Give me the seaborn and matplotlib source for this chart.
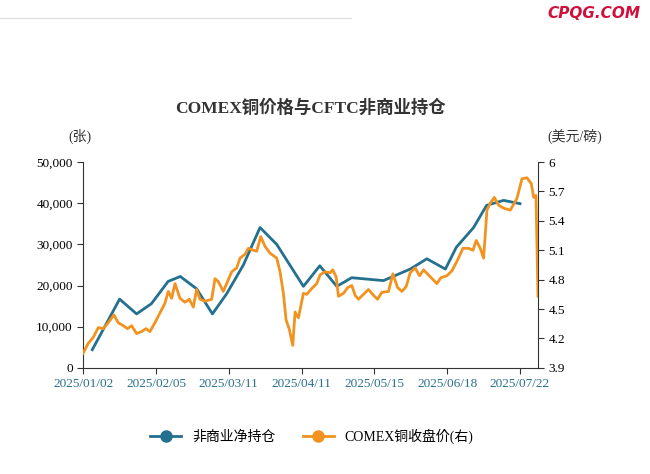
import matplotlib
matplotlib.use("Agg")
import matplotlib.pyplot as plt
from matplotlib import font_manager
import seaborn as sns
from matplotlib.lines import Line2D

names = {f.name for f in font_manager.fontManager.ttflist}
cjk = [n for n in ["Noto Sans CJK SC", "Noto Sans CJK JP", "Noto Sans CJK TC", "Noto Sans CJK KR", "Noto Serif CJK SC"] if n in names]
fonts = ["Liberation Serif"] + cjk
plt.rcParams["font.family"] = fonts

tick_labels = ["2025/01/02", "2025/02/05", "2025/03/11", "2025/04/11", "2025/05/15", "2025/06/18", "2025/07/22"]
tick_pos = [0, 24, 48, 72, 96, 120, 144]

pos_day = [3, 12, 17.6, 22.5, 28, 32, 37.4, 42.6, 47.3, 52.8, 58.3, 63.8, 72.6, 78, 83.6, 88.5, 99, 107.8, 113.3, 119.4, 123, 128.7, 133, 138.6, 144]
pos_val = [4400, 16700, 13100, 15600, 21000, 22200, 19200, 13100, 18000, 25000, 34100, 30000, 19800, 24800, 19800, 21900, 21200, 24000, 26500, 24000, 29300, 34100, 39500, 40700, 39900]

px_zoom = [100,115,130,145,160,175,192,205,220,233,245,260,275,288,300,315,330,345,355,365,375,390,405,418,430,440,450,465,485,495,505,520,535,545,560,570,585,595,610,620,632,645,660,680,690,700,708,718,728,735,745,760,770,785,800,810,825,840,848,858,865,880,893,905,915,925,940,955,970,982,995,1015,1028,1042,1055,1068,1080,1095,1108,1120,1140,1160,1172,1190,1205,1222,1238,1255,1268,1278,1290,1300,1310,1320,1332,1345,1360,1380,1400,1415,1430,1443,1450,1457,1463]
price_val = [4.05,4.15,4.21,4.31,4.30,4.36,4.44,4.36,4.33,4.30,4.33,4.25,4.27,4.30,4.27,4.36,4.46,4.56,4.68,4.61,4.76,4.61,4.57,4.60,4.52,4.70,4.60,4.58,4.60,4.81,4.78,4.68,4.80,4.88,4.92,5.02,5.06,5.12,5.10,5.09,5.24,5.14,5.07,5.02,4.88,4.66,4.39,4.29,4.13,4.47,4.41,4.66,4.65,4.71,4.76,4.85,4.88,4.87,4.90,4.83,4.63,4.66,4.72,4.74,4.64,4.60,4.65,4.70,4.64,4.60,4.67,4.68,4.86,4.72,4.68,4.73,4.87,4.92,4.84,4.90,4.83,4.76,4.82,4.84,4.89,5.00,5.12,5.12,5.10,5.20,5.12,5.02,5.51,5.58,5.64,5.56,5.53,5.51,5.63,5.83,5.84,5.78,5.64,5.66,4.63]
price_day = [(p - 100) * 0.11 for p in px_zoom]

blue = "#23708f"
orange = "#f2921f"

fig = plt.figure(figsize=(6.5, 4.74), dpi=100)
ax = fig.add_axes([0.128, 0.224, 0.7, 0.434])
ax2 = ax.twinx()

sns.lineplot(x=pos_day, y=pos_val, ax=ax, color=blue, lw=2, zorder=2)
sns.lineplot(x=price_day, y=price_val, ax=ax2, color=orange, lw=2, zorder=3)

ax.set_xlim(0, 150)
ax.set_ylim(0, 50000)
ax.set_yticks(range(0, 50001, 10000))
ax.set_yticklabels([f"{v:,}" for v in range(0, 50001, 10000)])
ax2.set_ylim(3.9, 6.0)
ax2.set_yticks([3.9, 4.2, 4.5, 4.8, 5.1, 5.4, 5.7, 6.0])
ax2.set_yticklabels(["3.9", "4.2", "4.5", "4.8", "5.1", "5.4", "5.7", "6"])
ax.set_xticks(tick_pos)
ax.set_xticklabels(tick_labels, color="#2a6f8a", fontsize=9.5)
for a in (ax, ax2):
    a.set_xlabel(""); a.set_ylabel("")
    a.spines["top"].set_visible(False)
    a.tick_params(labelsize=9.5, length=4, color="#333333")
    a.grid(False)
ax.spines["right"].set_visible(False)
ax.spines["left"].set_color("#333333")
ax.spines["bottom"].set_color("#333333")
ax2.spines["right"].set_color("#333333")
ax2.spines["left"].set_visible(False)
ax2.spines["bottom"].set_visible(False)

fig.text(0.477, 0.772, "COMEX铜价格与CFTC非商业持仓", ha="center", va="center", fontsize=12.5, fontweight="bold", color="#333333")
fig.text(0.123, 0.712, "(张)", ha="center", va="center", fontsize=10, color="#333333")
fig.text(0.885, 0.712, "(美元/磅)", ha="center", va="center", fontsize=10, color="#333333")
fig.text(0.985, 0.972, "CPQG.COM", ha="right", va="center", fontsize=11, color="#d0103a", style="italic", fontweight="bold", family="DejaVu Sans")
fig.add_artist(Line2D([0.0, 0.54], [0.962, 0.962], color="#dddddd", lw=0.8))

handles = [Line2D([], [], color=blue, lw=2, marker="o", markersize=8),
           Line2D([], [], color=orange, lw=2, marker="o", markersize=8)]
fig.legend(handles, ["非商业净持仓", "COMEX铜收盘价(右)"], loc="center", bbox_to_anchor=(0.48, 0.08),
           ncol=2, frameon=False, fontsize=10, handlelength=2.2, columnspacing=2)

fig.savefig("out.png", dpi=100)
